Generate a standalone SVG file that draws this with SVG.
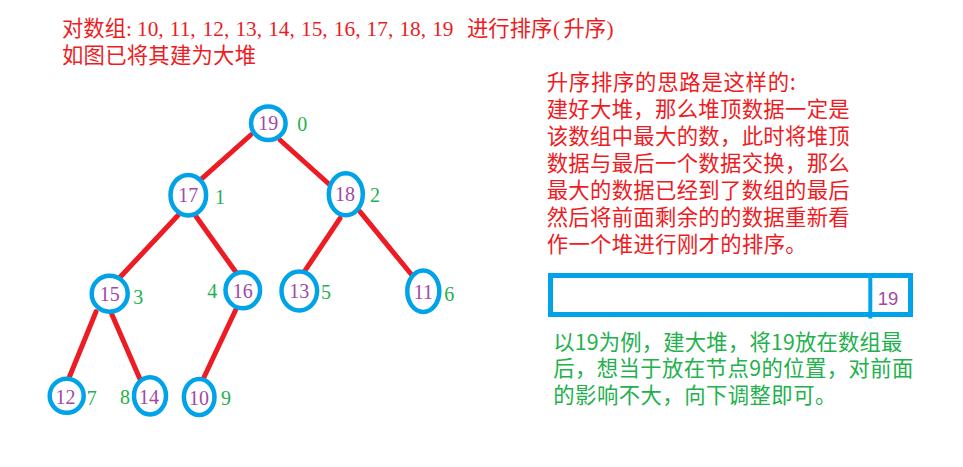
<svg xmlns="http://www.w3.org/2000/svg" width="963" height="467" viewBox="0 0 963 467">
<style>
.cjk{font-family:"Noto Sans CJK SC","Liberation Serif",sans-serif;font-size:21.33px}
.red{fill:#ed1c24}
.grn{fill:#22b14c}
.ser{font-family:"Liberation Serif","Noto Sans CJK SC",serif;font-size:21.33px}
.edge{stroke:#ed1c24;stroke-width:5;stroke-linecap:round;fill:none}
.ring{fill:#fff;stroke:#00a2e8;stroke-width:4.5}
.val{font-family:"Liberation Serif",serif;font-size:20px;fill:#a349a4;text-anchor:middle}
.idx{font-family:"Liberation Serif",serif;font-size:20px;fill:#22b14c;text-anchor:middle}
</style>
<rect width="963" height="467" fill="#fff"/>
<g id="title">
<text class="red" y="36"><tspan class="cjk" x="62">对数组</tspan><tspan class="ser" x="126">:</tspan><tspan class="ser" x="137">10,</tspan><tspan class="ser" x="169.8">11,</tspan><tspan class="ser" x="202.6">12,</tspan><tspan class="ser" x="235.4">13,</tspan><tspan class="ser" x="268.2">14,</tspan><tspan class="ser" x="301">15,</tspan><tspan class="ser" x="333.8">16,</tspan><tspan class="ser" x="366.6">17,</tspan><tspan class="ser" x="399.4">18,</tspan><tspan class="ser" x="432.2">19</tspan><tspan class="cjk" x="467">进行排序</tspan><tspan class="ser" x="553">(</tspan><tspan class="cjk" x="563.5">升序</tspan><tspan class="ser" x="606.5">)</tspan></text>
<text class="cjk red" x="62" y="63" textLength="194" lengthAdjust="spacing">如图已将其建为大堆</text>
</g>
<g id="explain" class="cjk red">
<text x="546.7" y="90" textLength="249" lengthAdjust="spacing">升序排序的思路是这样的:</text>
<text x="546.7" y="117" textLength="303" lengthAdjust="spacing">建好大堆，那么堆顶数据一定是</text>
<text x="546.7" y="144" textLength="303" lengthAdjust="spacing">该数组中最大的数，此时将堆顶</text>
<text x="546.7" y="171" textLength="303" lengthAdjust="spacing">数据与最后一个数据交换，那么</text>
<text x="546.7" y="198" textLength="303" lengthAdjust="spacing">最大的数据已经到了数组的最后</text>
<text x="546.7" y="225" textLength="303" lengthAdjust="spacing">然后将前面剩余的的数据重新看</text>
<text x="546.7" y="252" textLength="260" lengthAdjust="spacing">作一个堆进行刚才的排序。</text>
</g>
<g id="array">
<rect x="550.5" y="275.5" width="360" height="39" fill="none" stroke="#00a2e8" stroke-width="5"/>
<line x1="870.3" y1="273" x2="870.3" y2="318.5" stroke="#00a2e8" stroke-width="4"/>
<text x="888" y="304.7" font-family="Liberation Sans, sans-serif" font-size="18.5" fill="#a349a4" text-anchor="middle">19</text>
</g>
<g id="note" class="cjk grn">
<text x="553.3" y="349.5" textLength="349" lengthAdjust="spacing">以19为例，建大堆，将19放在数组最</text>
<text x="553.3" y="376" textLength="360" lengthAdjust="spacing">后，想当于放在节点9的位置，对前面</text>
<text x="553.3" y="403" textLength="283" lengthAdjust="spacing">的影响不大，向下调整即可。</text>
</g>
<g id="connectors">
<line class="edge" x1="250.7" y1="135" x2="201" y2="179.3"/>
<line class="edge" x1="280" y1="140" x2="330" y2="185"/>
<line class="edge" x1="178.3" y1="215" x2="120" y2="277.3"/>
<line class="edge" x1="195" y1="215" x2="236.7" y2="273.3"/>
<line class="edge" x1="340" y1="218.3" x2="305" y2="270.7"/>
<line class="edge" x1="360" y1="211.7" x2="411" y2="274"/>
<line class="edge" x1="96" y1="311.7" x2="69.3" y2="377.3"/>
<line class="edge" x1="111.7" y1="314" x2="140.7" y2="380.7"/>
<line class="edge" x1="236" y1="309.3" x2="202.7" y2="380"/>
</g>
<g id="n0"><ellipse class="ring" cx="268.3" cy="123.3" rx="17.3" ry="16.8"/><text class="val" x="268.3" y="130.3">19</text><text class="idx" x="302.3" y="131.3">0</text></g>
<g id="n1"><ellipse class="ring" cx="188.3" cy="195.2" rx="17.8" ry="20.3"/><text class="val" x="188.3" y="201.5">17</text><text class="idx" x="220" y="203.7">1</text></g>
<g id="n2"><ellipse class="ring" cx="345.8" cy="194.3" rx="17" ry="21"/><text class="val" x="345" y="201.3">18</text><text class="idx" x="375" y="202">2</text></g>
<g id="n3"><ellipse class="ring" cx="109.7" cy="293.7" rx="18" ry="18"/><text class="val" x="109.7" y="301">15</text><text class="idx" x="138.3" y="304.3">3</text></g>
<g id="n4"><ellipse class="ring" cx="242.8" cy="290.3" rx="17.3" ry="18"/><text class="val" x="242.8" y="297.7">16</text><text class="idx" x="212.3" y="297.7">4</text></g>
<g id="n5"><ellipse class="ring" cx="299.3" cy="291" rx="17.8" ry="19.4"/><text class="val" x="299.3" y="297.7">13</text><text class="idx" x="326" y="298.7">5</text></g>
<g id="n6"><ellipse class="ring" cx="423.3" cy="291.3" rx="16" ry="20.7"/><text class="val" x="423.3" y="298.7">11</text><text class="idx" x="449.3" y="301">6</text></g>
<g id="n7"><ellipse class="ring" cx="66.7" cy="395.8" rx="17" ry="17"/><text class="val" x="65.5" y="403.5">12</text><text class="idx" x="91.7" y="404.7">7</text></g>
<g id="n8"><ellipse class="ring" cx="150" cy="395.8" rx="16" ry="18.6"/><text class="val" x="149" y="403.5">14</text><text class="idx" x="125" y="403.7">8</text></g>
<g id="n9"><ellipse class="ring" cx="199.2" cy="397" rx="15.3" ry="18"/><text class="val" x="199" y="404.5">10</text><text class="idx" x="226" y="405.3">9</text></g>
</svg>
